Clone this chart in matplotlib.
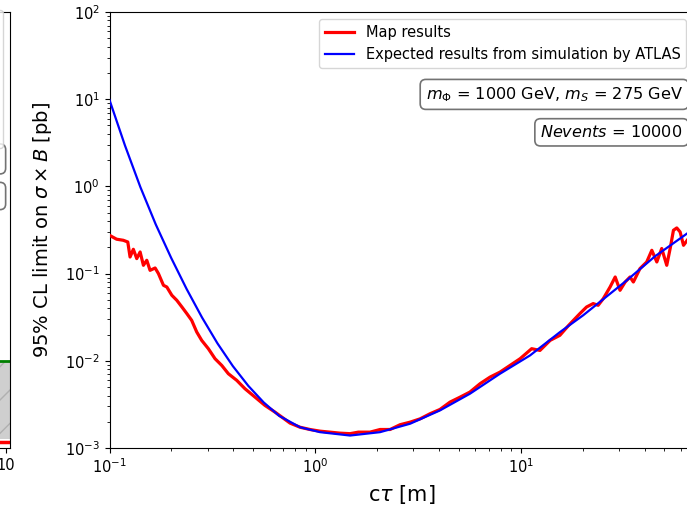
import matplotlib
matplotlib.use("Agg")
import matplotlib.pyplot as plt
from matplotlib.lines import Line2D

# ---------------- data ----------------
red_x = [0.100, 0.1083, 0.1167, 0.1227, 0.1259, 0.1306, 0.1357, 0.1409, 0.1462, 0.1518,
         0.1575, 0.1667, 0.173, 0.183, 0.190, 0.201, 0.2125, 0.225, 0.2377, 0.251,
         0.2656, 0.2808, 0.3025, 0.326, 0.3515, 0.3785, 0.416, 0.456, 0.5105, 0.570,
         0.638, 0.700, 0.755, 0.845, 0.944, 1.056, 1.182, 1.321, 1.479, 1.622,
         1.849, 2.07, 2.315, 2.59, 2.90, 3.24, 3.62, 4.05, 4.53, 5.07,
         5.66, 6.34, 7.09, 7.93, 8.87, 9.93, 11.3, 12.4, 13.9, 15.5,
         17.1, 19.4, 20.9, 22.5, 23.8, 25.2, 27.2, 28.8, 30.4, 32.2,
         34.0, 35.3, 38.0, 41.0, 43.4, 45.9, 48.5, 51.3, 53.3, 55.3,
         57.4, 59.6, 61.9, 64.5]
red_y = [0.275, 0.248, 0.241, 0.2305, 0.155, 0.190, 0.1486, 0.177, 0.1245, 0.1422,
         0.109, 0.116, 0.100, 0.0734, 0.0702, 0.0564, 0.0494, 0.0414, 0.0348, 0.0291,
         0.0214, 0.01715, 0.01377, 0.01057, 0.00885, 0.00711, 0.00596, 0.00478, 0.00383, 0.00308,
         0.00258, 0.00220, 0.00193, 0.00173, 0.00163, 0.00156, 0.00152, 0.00148, 0.00146, 0.00152,
         0.00152, 0.00163, 0.00163, 0.00185, 0.00198, 0.00216, 0.00247, 0.00277, 0.00336, 0.00383,
         0.00438, 0.00546, 0.00650, 0.00742, 0.00885, 0.01057, 0.01377, 0.01315, 0.01715, 0.0196,
         0.0255, 0.0348, 0.0414, 0.0453, 0.0433, 0.0516, 0.0702, 0.0914, 0.0643, 0.0801,
         0.0914, 0.0801, 0.114, 0.136, 0.185, 0.136, 0.194, 0.1245, 0.194, 0.314,
         0.334, 0.300, 0.211, 0.241]

blue_x = [0.100, 0.1189, 0.1413, 0.1679, 0.1995, 0.2371, 0.2818, 0.3350, 0.3981, 0.4732,
          0.5623, 0.6683, 0.845, 1.056, 1.479, 2.07, 2.90, 4.05, 5.66, 7.93,
          11.1, 15.5, 20.1, 32.8, 45.0, 64.4]
blue_y = [9.8, 2.95, 0.982, 0.366, 0.1514, 0.0667, 0.0314, 0.01585, 0.00869, 0.00516,
          0.00333, 0.00234, 0.00173, 0.00152, 0.00139, 0.00152, 0.00190, 0.00270, 0.00419, 0.00711,
          0.01153, 0.0213, 0.0332, 0.0837, 0.158, 0.288]

labels = ["Map results", "Expected results from simulation by ATLAS"]
mass_text = r"$m_\Phi$ = 1000 GeV, $m_S$ = 275 GeV"
nev_text = r"$Nevents$ = 10000"

# partial neighbouring panel (cut off at the left edge)
left_x = [0, 10.1]
left_green = [0.2, 0.2]
left_band_low = [0.02, 0.02]
left_band_high = [0.2, 0.2]
left_red_x = [9.75, 10.1]
left_blue_x = [0, 9.75]
left_line_y = 0.014

# ---------------- figure ----------------
W, H = 687, 508
fig = plt.figure(figsize=(W / 100, H / 100), dpi=100)


def px(l, b, r, t):
    return [l / W, (H - b) / H, (r - l) / W, (b - t) / H]


ax = fig.add_axes(px(109.5, 448, 694.5, 12))
axl = fig.add_axes(px(-390, 448, 10, 12))

# main panel
ax.plot(red_x, red_y, color="red", lw=2.3, label=labels[0], zorder=3)
ax.plot(blue_x, blue_y, color="blue", lw=1.6, label=labels[1], zorder=4)
ax.set_xscale("log")
ax.set_yscale("log")
ax.set_xlim(0.1, 70)
ax.set_ylim(1e-3, 1e2)
ax.tick_params(labelsize=10.5)
ax.set_xlabel(r"c$\tau$ [m]", fontsize=15, labelpad=5)
ax.set_ylabel(r"95% CL limit on $\sigma \times B$ [pb]", fontsize=14, labelpad=8)

ax.legend(loc="upper right", bbox_to_anchor=(693.5 / W, (H - 12) / H),
          bbox_transform=fig.transFigure, fontsize=10.5)

bbox = dict(boxstyle="round,pad=0.35", facecolor="white", edgecolor="0.45", lw=1.2)
ax.text(0.98, 0.811, mass_text, transform=ax.transAxes, ha="right", va="center",
        fontsize=11.6, bbox=bbox)
ax.text(0.98, 0.724, nev_text, transform=ax.transAxes, ha="right", va="center",
        fontsize=11.6, bbox=bbox)

# left (cut) panel
axl.fill_between(left_x, left_band_low, left_band_high, facecolor="#cfcfcf",
                 edgecolor="#b0b0b0", hatch="/", lw=0, label="band")
axl.plot(left_x, left_green, color="green", lw=2, label="limit")
axl.plot(left_blue_x, [left_line_y] * 2, color="blue", lw=2, label="expected")
axl.plot(left_red_x, [left_line_y] * 2, color="red", lw=2.5, label="map")
axl.set_xlim(0, 10.1)
axl.set_ylim(0, 1)
axl.set_xticks([10])
axl.set_xticklabels(["10"])
axl.set_yticks([])
axl.tick_params(labelsize=10.5)
extra = [Line2D([], [], color="gray", lw=1.5, label="other"),
         Line2D([], [], color="black", lw=1.5, label="reference")]
h, l = axl.get_legend_handles_labels()
axl.legend(handles=h + extra, loc="upper right", bbox_to_anchor=(3 / W, (H - 10) / H),
           bbox_transform=fig.transFigure, fontsize=10.5, borderaxespad=0)
axl.text(0.975, 0.663, mass_text, transform=axl.transAxes, ha="right", va="center",
         fontsize=11.6, bbox=bbox)
axl.text(0.975, 0.578, nev_text, transform=axl.transAxes, ha="right", va="center",
         fontsize=11.6, bbox=bbox)

fig.savefig("out.png", dpi=100)
